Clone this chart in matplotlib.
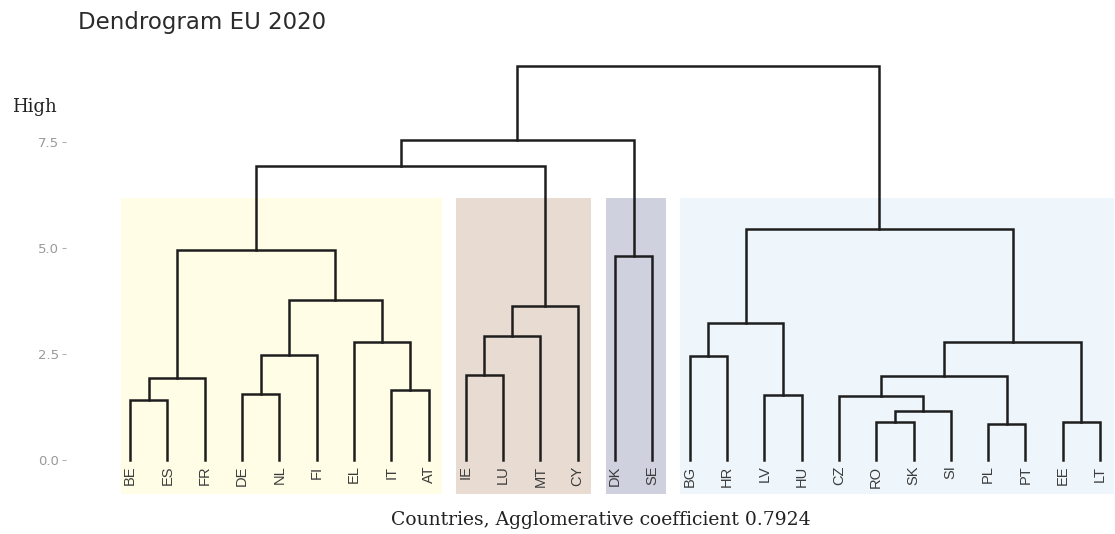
import matplotlib.pyplot as plt
from matplotlib.patches import Rectangle

# Hojas del dendrograma (orden de izquierda a derecha)
leaves = ['BE', 'ES', 'FR', 'DE', 'NL', 'FI', 'EL', 'IT', 'AT',
          'IE', 'LU', 'MT', 'CY', 'DK', 'SE',
          'BG', 'HR', 'LV', 'HU', 'CZ', 'RO', 'SK', 'SI', 'PL', 'PT', 'EE', 'LT']

# Uniones: hijos (hoja o nodo previo 'nK') y altura
merges = [('BE', 'ES'), ('n0', 'FR'), ('DE', 'NL'), ('n2', 'FI'), ('IT', 'AT'),
          ('EL', 'n4'), ('n3', 'n5'), ('n1', 'n6'), ('IE', 'LU'), ('n8', 'MT'),
          ('n9', 'CY'), ('n7', 'n10'), ('DK', 'SE'), ('n11', 'n12'), ('BG', 'HR'),
          ('LV', 'HU'), ('n14', 'n15'), ('RO', 'SK'), ('n17', 'SI'), ('CZ', 'n18'),
          ('PL', 'PT'), ('n19', 'n20'), ('EE', 'LT'), ('n21', 'n22'), ('n16', 'n23'),
          ('n13', 'n24')]
heights = [1.42, 1.93, 1.56, 2.47, 1.65, 2.78, 3.77, 4.96, 2.00, 2.92,
           3.63, 6.93, 4.80, 7.55, 2.45, 1.53, 3.24, 0.89, 1.15, 1.50,
           0.85, 1.98, 0.90, 2.78, 5.44, 9.30]

# Grupos (k = 4) y colores de los rectangulos
groups_first = ['BE', 'IE', 'DK', 'BG']
groups_last = ['AT', 'CY', 'SE', 'LT']
group_colors = ['#fffde6', '#e8dcd2', '#cfd1df', '#eef6fc']
rect_top = 6.18

fig = plt.figure(figsize=(11.15, 5.34), dpi=100)
ax = fig.add_axes([66 / 1115, 34 / 534, 1049 / 1115, 450 / 534])

# Posiciones
pos = {}
hgt = {}
for i, name in enumerate(leaves):
    pos[name] = i + 1
    hgt[name] = 0.0

# Rectangulos de los grupos
for first, last, col in zip(groups_first, groups_last, group_colors):
    x0 = pos[first] - 0.25
    x1 = pos[last] + 0.36
    ax.add_patch(Rectangle((x0, -0.8), x1 - x0, rect_top + 0.8,
                           facecolor=col, edgecolor='none', zorder=0))

# Dibujar las ramas
for k, ((a, b), h) in enumerate(zip(merges, heights)):
    xa, xb = pos[a], pos[b]
    ax.plot([xa, xa, xb, xb], [hgt[a], h, h, hgt[b]], color='#1e1e1e',
            linewidth=1.8, solid_joinstyle='miter', zorder=2)
    pos['n%d' % k] = (xa + xb) / 2
    hgt['n%d' % k] = h

# Etiquetas de las hojas
for name in leaves:
    ax.text(pos[name], -0.13, name, rotation=90, ha='center', va='top',
            fontsize=10.5, color='#3c3c3c', family='Liberation Sans', zorder=3)

ax.set_xlim(-0.716, 27.40)
ax.set_ylim(-0.943, 9.67)
ax.set_yticks([0, 2.5, 5.0, 7.5])
ax.set_yticklabels(['0.0', '2.5', '5.0', '7.5'])
ax.set_xticks([])
ax.tick_params(axis='y', length=3, width=0.8, color='#b0b0b0', labelcolor='#999999',
               labelsize=9.5, pad=2)
for s in ax.spines.values():
    s.set_visible(False)

fig.text(78 / 1115, 1 - 22 / 534, 'Dendrogram EU 2020', fontsize=16.5, color='#2b2b2b',
         family='DejaVu Sans', va='center', ha='left')
fig.text(12 / 1115, 1 - 107 / 534, 'High', fontsize=13, color='#222222',
         family='DejaVu Serif', va='center', ha='left')
fig.text(601 / 1115, 1 - 520 / 534, 'Countries, Agglomerative coefficient 0.7924',
         fontsize=13.5, color='#222222', family='DejaVu Serif', va='center', ha='center')

fig.savefig('out.png', dpi=100)
